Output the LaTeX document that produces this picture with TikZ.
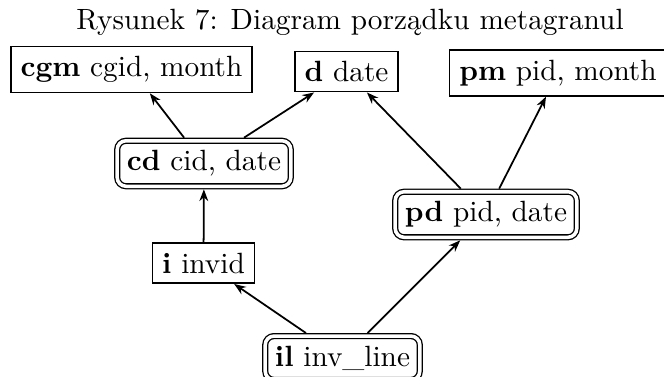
\documentclass[tikz,border=0pt]{standalone}
\usepackage{fontspec}
\usetikzlibrary{arrows.meta}
\begin{document}
\begin{tikzpicture}[x=0.3414pt,y=-0.3414pt,
  plain/.style={draw, line width=0.6pt, inner sep=3.33pt},
  granule/.style={draw, rounded corners=3pt, double, double distance=1.2pt,
    line width=0.45pt, inner sep=3.33pt, outer sep=1.05pt},
  link/.style={-{Stealth[length=4pt,width=3pt]}, line width=0.6pt}]
\useasboundingbox (0,0) rectangle (664,376);
% caption
\node[anchor=base] (title) at (350,29) {Rysunek 7: Diagram porządku metagranul};
% top level granules
\node[plain] (cgm) at (131.5,69.5) {\textbf{cgm} cgid, month};
\node[plain] (d) at (346.5,71.5) {\textbf{d} date};
\node[plain] (pm) at (558,73) {\textbf{pm} pid, month};
% middle granules
\node[granule] (cd) at (204,163.5) {\textbf{cd} cid, date};
\node[granule] (pd) at (486,214.5) {\textbf{pd} pid, date};
\node[plain] (i) at (203.5,263) {\textbf{i} invid};
% bottom granule
\node[granule] (il) at (342.5,358) {\textbf{il} inv\_line};
% order relation
\draw[link] (cd) -- (cgm);
\draw[link] (cd) -- (d);
\draw[link] (pd) -- (d);
\draw[link] (pd) -- (pm);
\draw[link] (i) -- (cd);
\draw[link] (il) -- (i);
\draw[link] (il) -- (pd);
\end{tikzpicture}
\end{document}
